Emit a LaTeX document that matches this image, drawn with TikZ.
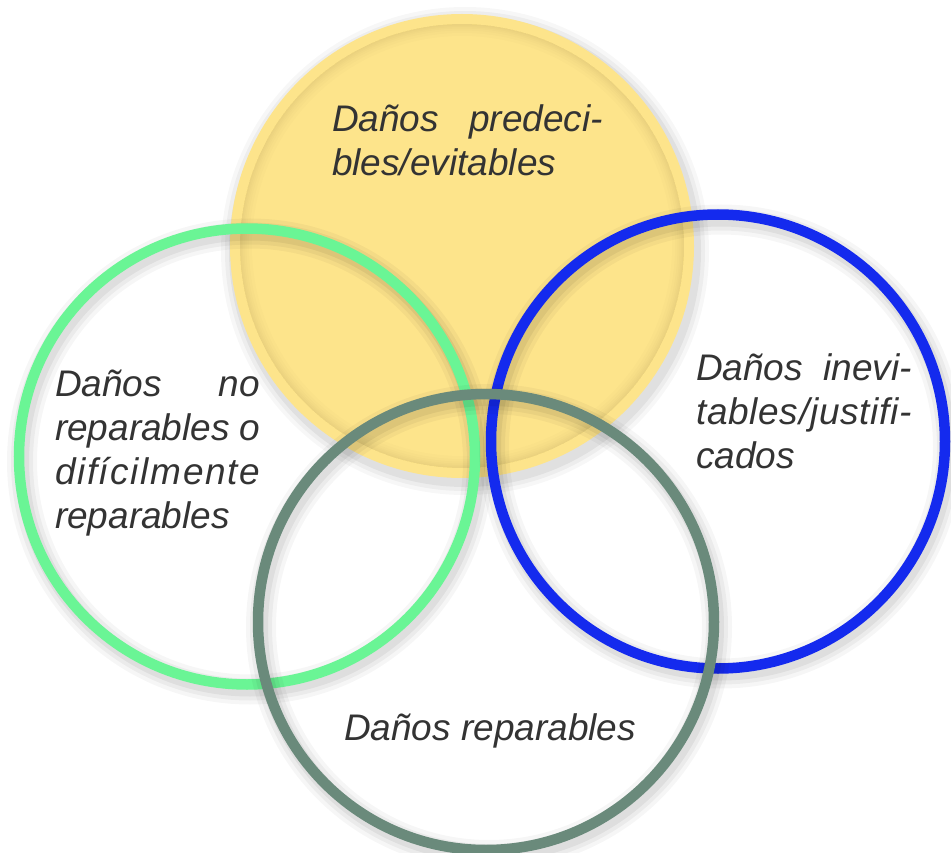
\documentclass[tikz,border=0pt]{standalone}
\usepackage{fontspec}
\setmainfont{Liberation Sans}
\definecolor{ylw}{RGB}{253,228,139}
\definecolor{grn}{RGB}{106,245,149}
\definecolor{blu}{RGB}{20,42,238}
\definecolor{gry}{RGB}{106,138,123}
\definecolor{txt}{RGB}{51,51,51}
\hyphenpenalty=10000
\begin{document}
\begin{tikzpicture}[x=1pt,y=-1pt,
  lblbase/.style={inner sep=0pt, outer sep=0pt, text=txt,
    font=\fontsize{37}{44}\selectfont\itshape},
  lbl/.style={lblbase, align=justify},
  ring/.style={line width=10.5pt}]
\useasboundingbox (0,0) rectangle (951,853);
\fill[white] (0,0) rectangle (951,853);
\coordinate (cY) at (462,246);
\coordinate (cG) at (247,456.5);
\coordinate (cB) at (718,441.5);
\coordinate (cR) at (486,622);
% yellow disk shadow
\foreach \r/\o in {244/0.03,240/0.04,236/0.05}{
  \fill[black,opacity=\o] ([shift={(3,5)}]cY) circle[radius=\r pt];}
\fill[ylw] (cY) circle[radius=232pt];
\begin{scope}
  \clip (cY) circle[radius=222pt];
  \foreach \w in {24,18,13,9,6,3}{
    \draw[black,opacity=0.012,line width=\w pt] (cY) circle[radius=222pt];}
\end{scope}
% ring shadows and rings
\foreach \c/\r/\col in {cG/228/grn, cB/227/blu, cR/228/gry}{
  \foreach \w/\o in {30/0.035,22/0.045,14/0.055}{
    \draw[black,opacity=\o,line width=\w pt] ([shift={(3,5)}]\c) circle[radius=\r pt];}
  \draw[ring,\col] (\c) circle[radius=\r pt];
}
% labels
\node[lbl, text width=271pt, anchor=base west] (tY) at (332,132)
  {Daños predeci-\linebreak bles/evitables};
\node[lbl, text width=205pt, anchor=base west] (tG) at (55,396)
  {Daños no\linebreak reparables o\par
   \hbox to\linewidth{d\hfill i\hfill f\hfill í\hfill c\hfill i\hfill l\hfill m\hfill e\hfill n\hfill t\hfill e}\par
   reparables};
\node[lbl, text width=216pt, anchor=base west] (tB) at (696,380)
  {\hbox to\linewidth{Daños\hfill inevi-}\par
   \hbox to\linewidth{t\hfill a\hfill b\hfill l\hfill e\hfill s\hfill /\hfill j\hfill u\hfill s\hfill t\hfill i\hfill f\hfill i\hfill -}\par
   cados};
\node[lblbase, anchor=base west] (tR) at (344,740) {Daños reparables};
\end{tikzpicture}
\end{document}
